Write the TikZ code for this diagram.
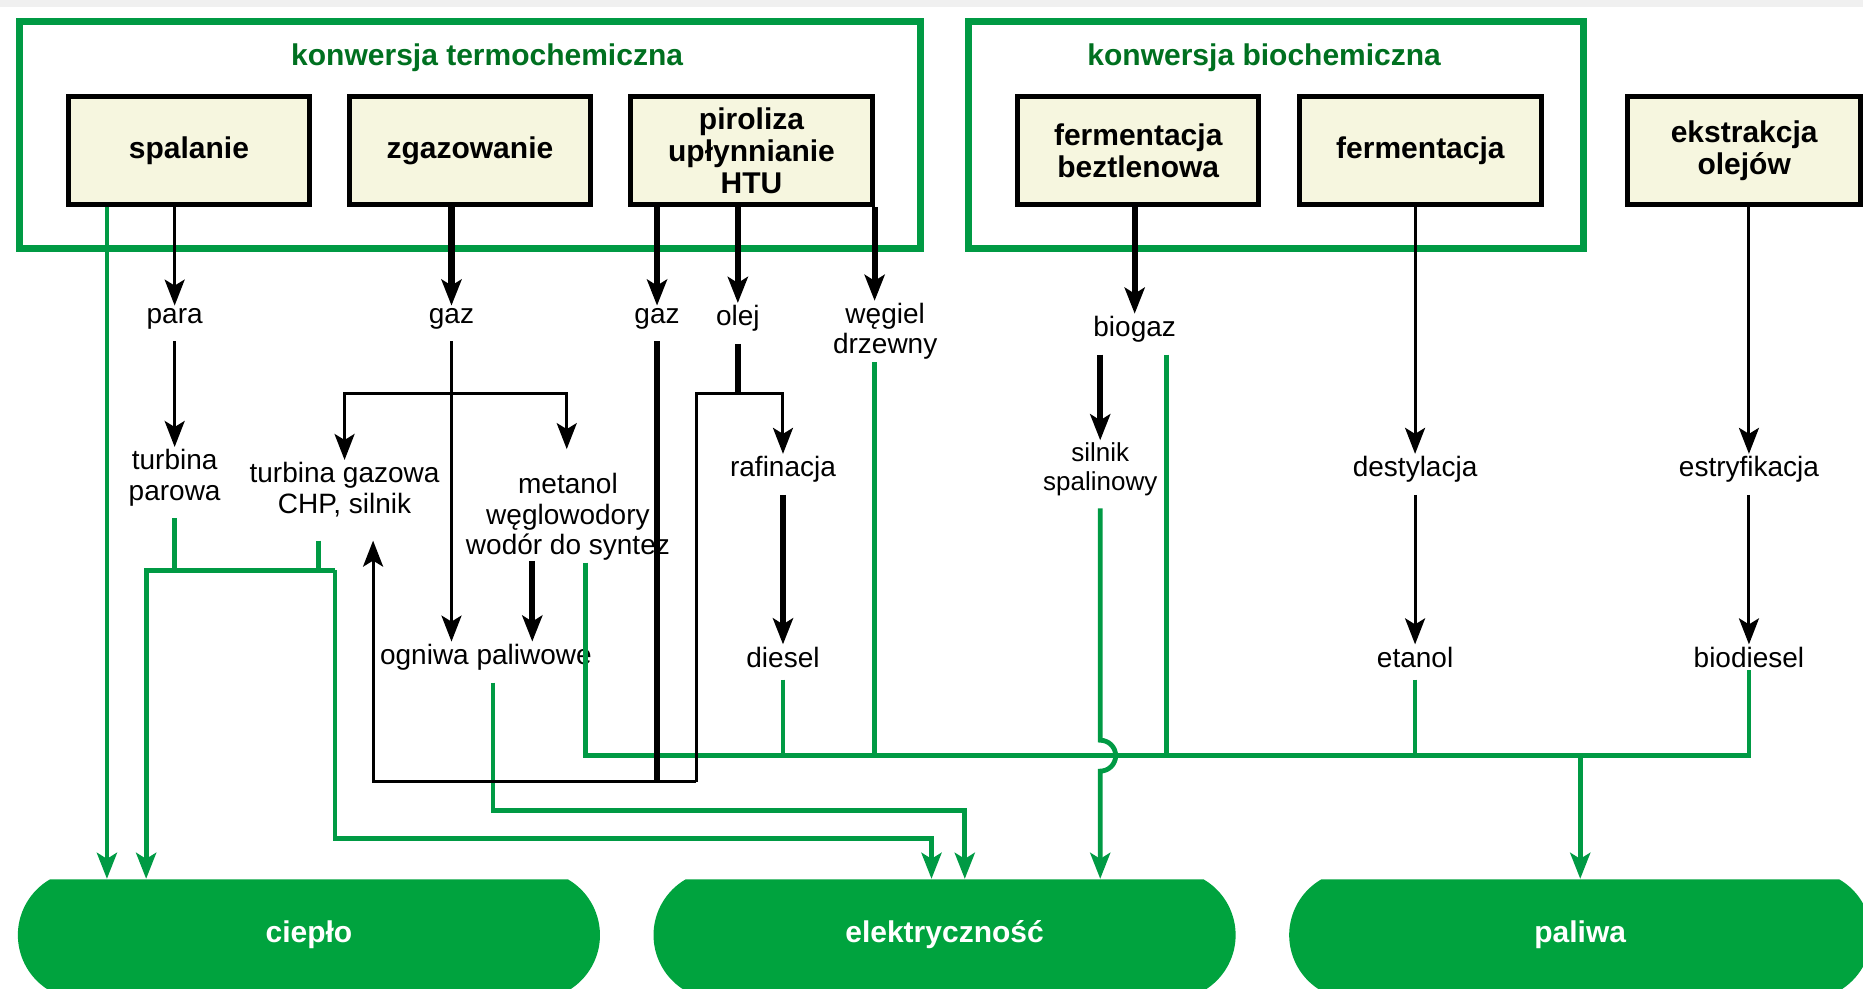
\documentclass[tikz,border=0pt]{standalone}
\usepackage{fontspec}
\setmainfont{Liberation Sans}
\usetikzlibrary{arrows.meta,shapes.misc}
\definecolor{zielen}{RGB}{0,154,68}
\definecolor{ciemnyziel}{RGB}{0,112,32}
\definecolor{zielwyj}{RGB}{0,163,62}
\definecolor{bez}{RGB}{246,246,223}

\begin{document}
\begin{tikzpicture}[x=0.594pt,y=-0.594pt,
  grupa/.style={draw=zielen,line width=3.5pt},
  proces/.style={draw,line width=2.5pt,fill=bez,minimum width=120.6pt,minimum height=54pt,inner sep=0pt,align=center,font=\bfseries\fontsize{15}{16}\selectfont},
  etyk/.style={inner sep=1pt,align=center},
  wyjscie/.style={rounded rectangle,rounded rectangle arc length=120,fill=zielwyj,minimum width=291pt,minimum height=55.8pt,inner sep=0pt,text=white,font=\bfseries\fontsize{15}{17}\selectfont},
  cienka/.style={line width=1.5pt},
  gruba/.style={line width=3pt},
  grot/.style={-{Stealth[length=13pt,width=10pt,inset=3pt]}},
  ziel/.style={draw=zielen,line width=2.4pt},
  zgrot/.style={ziel,-{Stealth[length=13pt,width=10pt,inset=3pt]}},
  odl/.style={shorten <=5pt}]
\tikzstyle{every node}=[font=\fontsize{14}{15.2}\selectfont]
\useasboundingbox (0,0) rectangle (1568,832);
\fill[gray!12] (0,0) rectangle (1568,6);

%groups
\draw[grupa] (16,18) rectangle (775,209);
\draw[grupa] (815,18) rectangle (1333,209);
\node[text=ciemnyziel,font=\bfseries\fontsize{15}{17}\selectfont] (tter) at (410,49) {konwersja termochemiczna};
\node[text=ciemnyziel,font=\bfseries\fontsize{15}{17}\selectfont] (tbio) at (1064,49) {konwersja biochemiczna};

%process boxes
\node[proces] (spal) at (159,127) {spalanie};
\node[proces] (zgaz) at (395.5,127) {zgazowanie};
\node[proces] (piro) at (632.5,127) {piroliza\\upłynnianie\\HTU};
\node[proces] (ferb) at (958,127) {fermentacja\\beztlenowa};
\node[proces] (ferm) at (1195.5,127) {fermentacja};
\node[proces,minimum width=116.4pt] (ekst) at (1468,127) {ekstrakcja\\olejów};

%products
\node[etyk] (para) at (147,268) {para};
\node[etyk] (gaz1) at (380,268) {gaz};
\node[etyk] (gaz2) at (553,268) {gaz};
\node[etyk] (olej) at (621,268) {olej};
\node[etyk] (wegl) at (745,279) {węgiel\\drzewny};
\node[etyk] (biog) at (955,277) {biogaz};
\node[etyk] (tpar) at (147,402) {turbina\\parowa};
\node[etyk] (tgaz) at (290,412) {turbina gazowa\\CHP, silnik};
\node[etyk] (meta) at (478,435) {metanol\\węglowodory\\wodór do syntez};
\node[etyk] (rafi) at (659,395) {rafinacja};
\node[etyk,font=\fontsize{13}{14.5}\selectfont] (siln) at (926,395) {silnik\\spalinowy};
\node[etyk] (dest) at (1191,395) {destylacja};
\node[etyk] (estr) at (1472,395) {estryfikacja};
\node[etyk] (ogni) at (409,553) {ogniwa paliwowe};
\node[etyk] (dies) at (659,553) {diesel};
\node[etyk] (etan) at (1191,553) {etanol};
\node[etyk] (biod) at (1472,553) {biodiesel};

%outputs
\node[wyjscie] (ciep) at (260,787) {ciepło};
\node[wyjscie] (elek) at (795,787) {elektryczność};
\node[wyjscie] (pali) at (1330,787) {paliwa};

%junction points
\path (90,480) coordinate (g1);
\path (123,480) coordinate (h1);
\path (282,480) coordinate (h2);
\path (268,455) coordinate (t2);
\path (784,706) coordinate (h4);
\path (415,682) coordinate (o1);
\path (812,682) coordinate (o2);
\path (493,636) coordinate (b0);
\path (1472,636) coordinate (b9);
\path (926,623) coordinate (hop);
\path (982,636) coordinate (g5);
\path (380,331) coordinate (s1);
\path (477,378) coordinate (s2);
\path (448,472) coordinate (m1);
\path (586,331) coordinate (k1);
\path (586,658) coordinate (k2);
\path (314,658) coordinate (k3);
\path (314,455) coordinate (k4);

%green lines
\draw[zgrot] (spal.south -| g1) -- (ciep.north -| g1);
\draw[ziel,odl] (tpar.south) -- (tpar.south |- h1);
\draw[ziel] (t2) -- (t2 |- h1);
\draw[zgrot] (h2) -- (h1) -- (ciep.north -| h1);
\draw[zgrot] (h2) |- (h4) -- (elek.north -| h4);
\draw[zgrot,odl] (ogni.south -| o1) |- (o2) -- (elek.north -| o2);
\draw[zgrot,odl] (siln.south) -- (hop) arc[start angle=-90,end angle=90,radius=13] -- (elek.north -| hop);
\draw[ziel] (meta.south -| b0) -- (b0) -- (b9) -- (biod.south -| b9);
\draw[ziel,odl] (dies.south) -- (dies.south |- b0);
\draw[ziel] (wegl.south -| piro.south east) -- (piro.south east |- b0);
\draw[ziel,odl] (biog.south -| g5) -- (g5 |- b0);
\draw[ziel,odl] (etan.south) -- (etan.south |- b0);
\draw[zgrot] (b0 -| pali) -- (pali.north);

%black arrows
\draw[cienka,grot] (spal.south -| para) -- (para.north);
\draw[cienka,grot,odl] (para.south) -- (tpar.north);
\draw[gruba,grot] (zgaz.south -| gaz1) -- (gaz1.north);
\draw[cienka,grot,odl] (gaz1.south) -- (gaz1 |- ogni.north);
\draw[cienka,grot] (s1) -| (tgaz.north);
\draw[cienka,grot] (s1) -| (s2);
\draw[gruba,grot] (m1) -- (m1 |- ogni.north);
\draw[gruba,grot] (piro.south -| gaz2) -- (gaz2.north);
\draw[gruba,grot] (piro.south -| olej) -- (olej.north);
\draw[gruba,grot] (piro.south east) -- (piro.south east |- wegl.north);
\draw[gruba,odl] (gaz2.south) -- (gaz2.south |- k2);
\draw[gruba,odl] (olej.south) -- (olej.south |- k1);
\draw[cienka,grot] (k2) -- (k1) -| (rafi.north);
\draw[cienka,grot] (k2) -- (k3) -- (k4);
\draw[gruba,grot,odl] (rafi.south) -- (dies.north);
\draw[gruba,grot] (ferb.south -| biog) -- (biog.north);
\draw[gruba,grot,odl] (biog.south -| siln) -- (siln.north);
\draw[cienka,grot] (ferm.south -| dest) -- (dest.north);
\draw[cienka,grot,odl] (dest.south) -- (etan.north);
\draw[cienka,grot] (ekst.south -| estr) -- (estr.north);
\draw[cienka,grot,odl] (estr.south) -- (biod.north);
\end{tikzpicture}
\end{document}
